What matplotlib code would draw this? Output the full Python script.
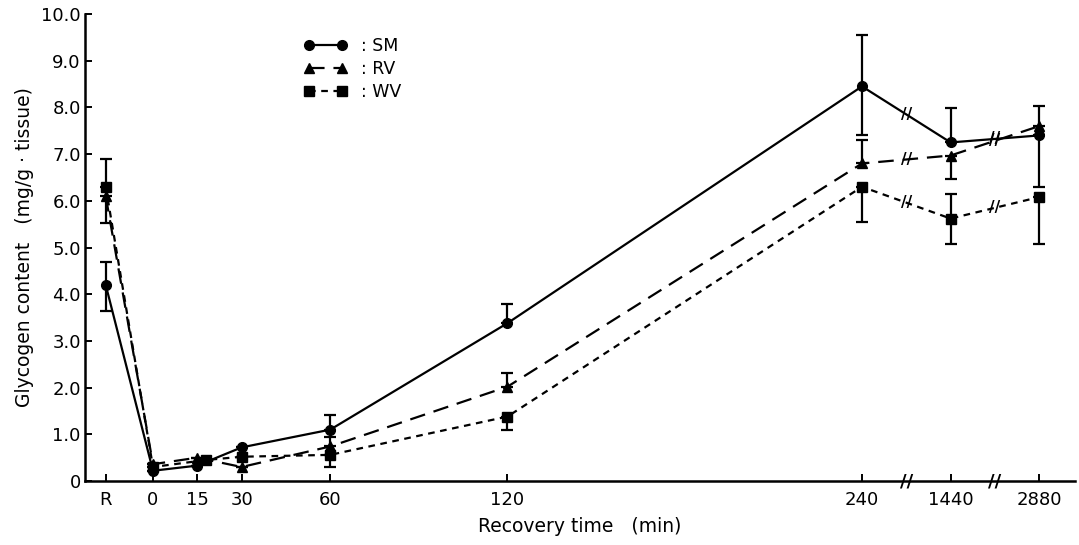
import numpy as np
import matplotlib
matplotlib.use('Agg')
import matplotlib.pyplot as plt
from matplotlib.lines import Line2D

# recovery time categories and their place on the (broken) x axis
time_labels = ['R', '0', '15', '30', '60', '120', '240', '1440', '2880']
time_pos = [-16, 0, 15, 30, 60, 120, 240, 270, 300]

# glycogen content (mg/g tissue)
sm = [4.2, 0.22, 0.33, 0.72, 1.1, 3.38, 8.45, 7.25, 7.4]
rv = [6.1, 0.36, 0.5, 0.3, 0.74, 2.02, 6.8, 6.97, 7.6]
wv = [6.3, 0.3, 0.45, 0.52, 0.56, 1.38, 6.3, 5.62, 6.08]

# error bars (lower, upper) - only the drawn side
sm_lo = [0.55, 0, 0, 0, 0, 0, 1.05, 0, 1.1]
sm_hi = [0.5, 0, 0, 0, 0.32, 0.42, 1.1, 0.73, 0]
rv_lo = [0.57, 0, 0, 0, 0, 0, 0, 0.5, 0]
rv_hi = [0, 0, 0, 0, 0.2, 0.3, 0.5, 0, 0.43]
wv_lo = [0, 0, 0, 0, 0.27, 0.29, 0.75, 0.55, 1.0]
wv_hi = [0.6, 0, 0, 0, 0, 0, 0, 0.52, 0]

# WV at 15 min was drawn slightly to the right in the original
wv_shift = [0, 0, 3, 0, 0, 0, 0, 0, 0]

plt.rcParams['font.family'] = ['DejaVu Sans']

fig = plt.figure(figsize=(10.79, 5.45), dpi=100)
ax = fig.add_axes([0.0788, 0.1174, 0.9172, 0.8569])

x = np.array(time_pos, dtype=float)
styles = [
    (sm, sm_lo, sm_hi, 'o', '-', ': SM', np.zeros(len(x))),
    (rv, rv_lo, rv_hi, '^', (0, (7, 4)), ': RV', np.zeros(len(x))),
    (wv, wv_lo, wv_hi, 's', (0, (3, 2.5)), ': WV', np.array(wv_shift)),
]

handles = []
for vals, lo, hi, mk, ls, lab, shift in styles:
    xs = x + shift
    ax.errorbar(xs, vals, yerr=[lo, hi], fmt='none', ecolor='black',
                elinewidth=1.6, capsize=4, capthick=1.6, zorder=3)
    ax.plot(xs, vals, color='black', linestyle=ls, linewidth=1.6,
            marker=mk, markersize=7, zorder=4)
    handles.append(Line2D([0], [0], color='black', linestyle=ls, linewidth=1.6,
                          marker=mk, markersize=7, label=lab))
    # break marks on the segments crossing the axis breaks
    for i in (6, 7):
        mx = (xs[i] + xs[i + 1]) / 2
        my = (vals[i] + vals[i + 1]) / 2
        ax.text(mx, my, '//', ha='center', va='center', fontsize=11,
                fontweight='bold', zorder=5)

# break marks on the x axis
for i in (6, 7):
    ax.text((x[i] + x[i + 1]) / 2, 0, '//', ha='center', va='center',
            fontsize=13, fontweight='bold', clip_on=False, zorder=5)

ax.set_xlim(-23, 312)
ax.set_ylim(0, 10)
ax.set_xticks(time_pos)
ax.set_xticklabels(time_labels)
ax.set_yticks(np.arange(0, 11))
ax.set_yticklabels(['0'] + ['%d.0' % v for v in range(1, 11)])
ax.tick_params(direction='in', length=5, width=1.4, labelsize=13)
ax.tick_params(axis='x', pad=7)
ax.tick_params(axis='y', pad=3)
for side in ('top', 'right'):
    ax.spines[side].set_visible(False)
for side in ('left', 'bottom'):
    ax.spines[side].set_linewidth(1.8)

ax.set_xlabel('Recovery time   (min)', fontsize=13.5, labelpad=6)
ax.set_ylabel('Glycogen content   (mg/g · tissue)', fontsize=13.5, labelpad=5)

ax.legend(handles=handles, loc='upper left', bbox_to_anchor=(0.205, 0.985),
          frameon=False, numpoints=2, handlelength=2.5, handletextpad=0.8,
          labelspacing=0.3, fontsize=12.5)

fig.savefig('out.png', dpi=100)
